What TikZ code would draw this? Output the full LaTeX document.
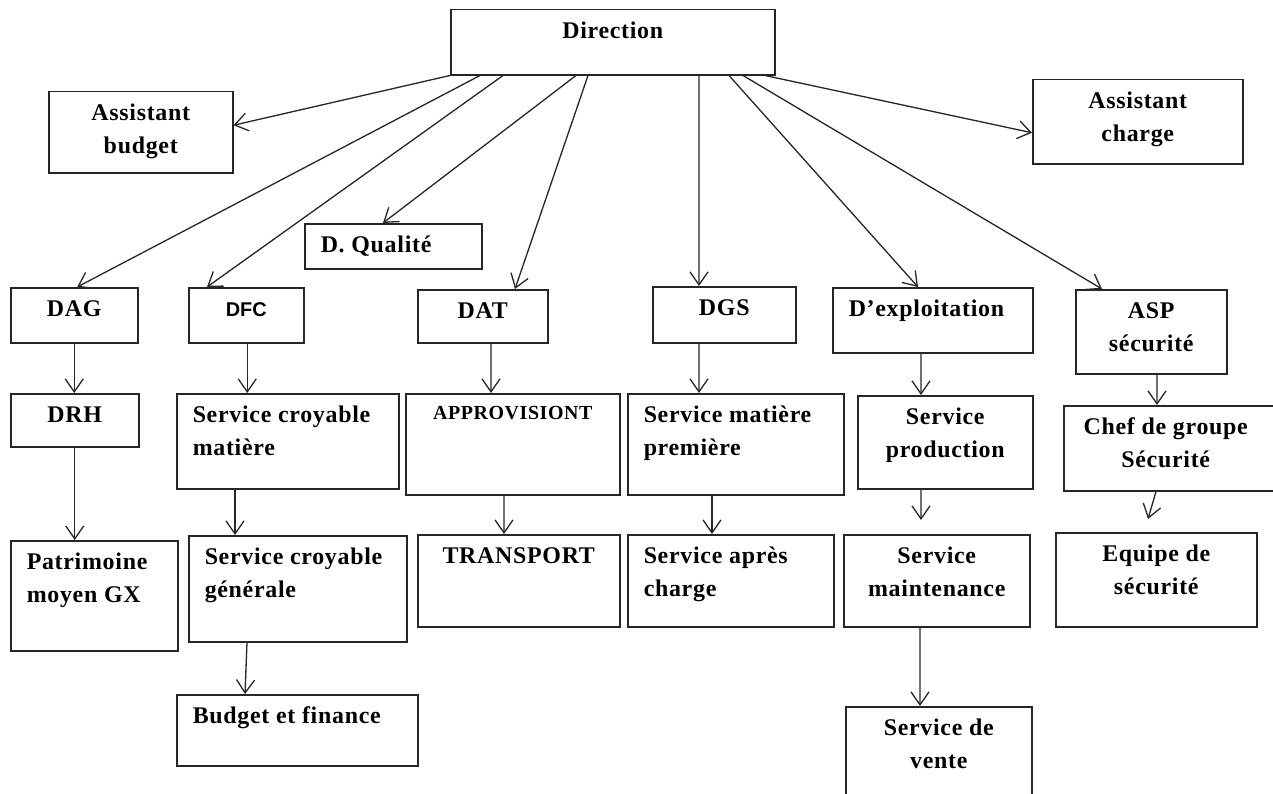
\documentclass[tikz,border=0pt]{standalone}
\usepackage{fontspec}
\setmainfont{Liberation Serif}[LetterSpace=3]
\newfontfamily\sansfont{Liberation Sans}
\usetikzlibrary{arrows.meta}

% box contents: width, height, text (centred or left)
\newcommand{\ctext}[4][0bp]{\parbox[b][#3][t]{#2}{\vspace*{5.5bp}\centering\rightskip=#1 plus 1fil\strut #4\par}}
\newcommand{\ltext}[3]{\parbox[b][#2][t]{#1}{\vspace*{5.5bp}\raggedright\leftskip=16bp\strut #3\par}}

\begin{document}
\begin{tikzpicture}[x=1bp, y=-1bp, font=\bfseries\fontsize{24}{33}\selectfont]
    \tikzstyle{node_box} = [draw=black!85, line width=1.5bp, inner sep=0pt, anchor=north west]
    \tikzstyle{arrow_black} = [-{Straight Barb[length=13bp, width=18bp]}, black!85, line width=1.3bp]

    \useasboundingbox (0,0) rectangle (1273,794);
    \fill[white] (0,0) rectangle (1273,794);

    % top
    \node[node_box] (nDir) at (450,9) {\ctext{324bp}{65bp}{Direction}};
    \node[node_box] (nAB) at (48,91) {\ctext{184bp}{81bp}{Assistant\\budget}};
    \node[node_box] (nAC) at (1032,79) {\ctext{210bp}{84bp}{Assistant\\charge}};
    \node[node_box] (nDQ) at (304,223) {\ltext{177bp}{45bp}{D. Qualité}};

    % directions
    \node[node_box] (nDAG) at (10,287) {\ctext{127bp}{55bp}{DAG}};
    \node[node_box] (nDFC) at (188,287) {\ctext{115bp}{55bp}{\sansfont\fontsize{20}{33}\selectfont DFC}};
    \node[node_box] (nDAT) at (417,289) {\ctext{130bp}{53bp}{DAT}};
    \node[node_box] (nDGS) at (652,286) {\ctext{143bp}{56bp}{DGS}};
    \node[node_box] (nDEX) at (832,287) {\ltext{200bp}{65bp}{D’exploitation}};
    \node[node_box] (nASP) at (1075,289) {\ctext{151bp}{84bp}{ASP\\sécurité}};

    % services
    \node[node_box] (nDRH) at (10,393) {\ctext{128bp}{53bp}{DRH}};
    \node[node_box] (nSCM) at (176,393) {\ltext{222bp}{95bp}{Service croyable\\matière}};
    \node[node_box] (nAPP) at (405,393) {\ctext{214bp}{101bp}{\raisebox{3bp}{\fontsize{20}{33}\selectfont APPROVISIONT}}};
    \node[node_box] (nSMP) at (627,393) {\ltext{216bp}{101bp}{Service matière\\première}};
    \node[node_box] (nSP) at (857,395) {\ctext{175bp}{93bp}{Service\\production}};
    \node[node_box] (nCG) at (1063,405) {\ctext[13bp]{217bp}{85bp}{Chef de groupe\\Sécurité}};

    \node[node_box] (nPAT) at (10,540) {\ltext{167bp}{110bp}{Patrimoine\\moyen GX}};
    \node[node_box] (nSCG) at (188,535) {\ltext{218bp}{106bp}{Service croyable\\générale}};
    \node[node_box] (nTR) at (417,534) {\ctext{202bp}{92bp}{TRANSPORT}};
    \node[node_box] (nSAC) at (627,534) {\ltext{206bp}{92bp}{Service après\\charge}};
    \node[node_box] (nSM) at (843,534) {\ctext{186bp}{92bp}{Service\\maintenance}};
    \node[node_box] (nEQ) at (1055,532) {\ctext{201bp}{94bp}{Equipe de\\sécurité}};

    \node[node_box] (nBF) at (176,694) {\ltext{241bp}{71bp}{Budget et finance}};
    \node[node_box] (nSV) at (845,706) {\ctext{186bp}{130bp}{Service de\\vente}};

    % from Direction
    \draw[arrow_black] (nDir.south west) -- ([yshift=7bp]nAB.east);
    \draw[arrow_black] ([xshift=30bp]nDir.south west) -- ([xshift=3bp]nDAG.north);
    \draw[arrow_black] ([xshift=53bp]nDir.south west) -- ([xshift=19bp]nDFC.north west);
    \draw[arrow_black] ([xshift=126bp]nDir.south west) -- ([xshift=79bp]nDQ.north west);
    \draw[arrow_black] ([xshift=138bp]nDir.south west) -- ([xshift=98bp]nDAT.north west);
    \draw[arrow_black] ([xshift=249bp]nDir.south west) -- ([xshift=47bp]nDGS.north west);
    \draw[arrow_black] ([xshift=279bp]nDir.south west) -- ([xshift=86bp]nDEX.north west);
    \draw[arrow_black] ([xshift=293bp]nDir.south west) -- ([xshift=27bp]nASP.north west);
    \draw[arrow_black] ([xshift=315bp]nDir.south west) -- ([yshift=-11bp]nAC.west);

    % columns
    \draw[arrow_black] (nDAG.south) -- (nDAG.south |- nDRH.north);
    \draw[arrow_black] (nDRH.south) -- (nDRH.south |- nPAT.north);
    \draw[arrow_black] ([xshift=1bp]nDFC.south) -- ([xshift=1bp]nDFC.south |- nSCM.north);
    \draw[arrow_black] ([xshift=59bp]nSCM.south west) -- ([xshift=59bp]nSCM.south west |- nSCG.north);
    \draw[arrow_black] ([xshift=59bp]nSCG.south west) -- ([xshift=69bp]nBF.north west);
    \draw[arrow_black] ([xshift=74bp]nDAT.south west) -- ([xshift=86bp]nAPP.north west);
    \draw[arrow_black] ([xshift=99bp]nAPP.south west) -- ([xshift=87bp]nTR.north west);
    \draw[arrow_black] ([xshift=47bp]nDGS.south west) -- ([xshift=72bp]nSMP.north west);
    \draw[arrow_black] ([xshift=85bp]nSMP.south west) -- ([xshift=85bp]nSAC.north west);
    \draw[arrow_black] ([xshift=89bp]nDEX.south west) -- ([xshift=64bp]nSP.north west);
    \draw[arrow_black] ([xshift=64bp]nSP.south west) -- ([xshift=78bp, yshift=14bp]nSM.north west);
    \draw[arrow_black] ([xshift=77bp]nSM.south west) -- ([xshift=75bp]nSV.north west);
    \draw[arrow_black] ([xshift=82bp]nASP.south west) -- ([xshift=94bp]nCG.north west);
    \draw[arrow_black] ([xshift=93bp]nCG.south west) -- ([xshift=93bp, yshift=13bp]nEQ.north west);

\end{tikzpicture}
\end{document}
